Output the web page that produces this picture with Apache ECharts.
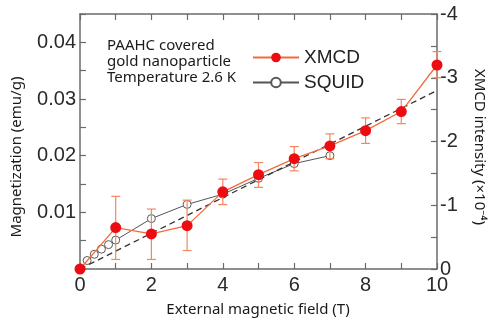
<!DOCTYPE html>
<html>
<head>
<meta charset="utf-8">
<script src="https://cdn.jsdelivr.net/npm/echarts@6/dist/echarts.min.js"></script>
<style>
  html, body { margin: 0; padding: 0; background: #ffffff; }
  #chart { width: 500px; height: 326px; }
</style>
</head>
<body>
<div id="chart"></div>
<script>
// XMCD intensity (×10^-4) versus applied field, with error bar limits
const xmcdField = [0, 1, 2, 3, 4, 5, 6, 7, 8, 9, 10];
const xmcdValue = [0, -0.65, -0.55, -0.68, -1.21, -1.48, -1.73, -1.93, -2.17, -2.47, -3.20];
const xmcdErrLow = [null, -0.15, -0.15, -0.29, -1.01, -1.28, -1.54, -1.73, -1.97, -2.28, -3.00];
const xmcdErrHigh = [null, -1.14, -0.94, -1.08, -1.41, -1.67, -1.92, -2.12, -2.37, -2.66, -3.41];

// SQUID magnetization (emu/g) versus applied field
const squidField = [0.2, 0.4, 0.6, 0.8, 1.0, 2, 3, 4, 5, 6, 7];
const squidValue = [0.0015, 0.0026, 0.0035, 0.0043, 0.0051, 0.0089, 0.0114, 0.0132, 0.0160, 0.0186, 0.0200];

// Linear fit through the origin (emu/g)
const fitField = [0, 10];
const fitValue = [0, 0.0315];

// Axis ticks and labels
const fieldLabels = [0, 2, 4, 6, 8, 10];
const magLabels = [0.01, 0.02, 0.03, 0.04];
const xmcdLabels = [-4, -3, -2, -1, 0];

const sampleNote = ['PAAHC covered', 'gold nanoparticle', 'Temperature 2.6 K'];

const axisColor = '#6b6b6b';
const tickFont = 'Liberation Sans, Arial, sans-serif';
const titleFont = 'Noto Sans, Open Sans, sans-serif';
const xmcdLine = '#f26b3a';
const xmcdDot = '#ec0c12';
const errColor = '#f3875f';

const near = (v, list) => list.some(t => Math.abs(t - v) < 1e-6);

const chart = echarts.init(document.getElementById('chart'), null, { renderer: 'canvas' });

const errData = xmcdField.map((f, i) => [f, xmcdErrLow[i], xmcdErrHigh[i]])
  .filter(d => d[1] !== null);

const frameLine = { show: true, onZero: false, lineStyle: { color: axisColor, width: 1.5 } };
const frameTick = { show: true, inside: true, length: 6, lineStyle: { color: axisColor, width: 1.2 } };

chart.setOption({
  animation: false,
  backgroundColor: '#ffffff',
  grid: { left: 80, right: 63, top: 14, bottom: 57, show: false },
  legend: {
    orient: 'vertical',
    left: 247,
    top: 43,
    itemWidth: 46,
    itemHeight: 12,
    itemGap: 6,
    textStyle: { fontFamily: tickFont, fontSize: 19, color: '#222' },
    data: ['XMCD', 'SQUID']
  },
  xAxis: [
    {
      type: 'value', min: 0, max: 10, interval: 1, position: 'bottom',
      axisLine: frameLine, axisTick: frameTick,
      axisLabel: {
        margin: 6, fontFamily: tickFont, fontSize: 20, color: '#2a2a2a',
        formatter: v => near(v, fieldLabels) ? String(v) : ''
      },
      splitLine: { show: false }
    },
    {
      type: 'value', min: 0, max: 10, interval: 1, position: 'top',
      axisLine: frameLine, axisTick: frameTick,
      axisLabel: { show: false },
      splitLine: { show: false }
    }
  ],
  yAxis: [
    {
      type: 'value', min: 0, max: 0.045, interval: 0.005, position: 'left',
      axisLine: frameLine, axisTick: frameTick,
      axisLabel: {
        margin: 4, fontFamily: tickFont, fontSize: 20, color: '#2a2a2a',
        formatter: v => near(v, magLabels) ? v.toFixed(2) : ''
      },
      splitLine: { show: false }
    },
    {
      type: 'value', min: -4, max: 0, interval: 0.5, inverse: true, position: 'right',
      axisLine: frameLine, axisTick: frameTick,
      axisLabel: {
        margin: 3, fontFamily: tickFont, fontSize: 20, color: '#2a2a2a',
        formatter: v => near(v, xmcdLabels) ? String(Math.round(v)) : ''
      },
      splitLine: { show: false }
    }
  ],
  graphic: [
    {
      type: 'text', left: 107, top: 38,
      style: {
        text: sampleNote.join('\n'), fontFamily: titleFont, fontSize: 15,
        lineHeight: 16, fill: '#1a1a1a'
      }
    },
    {
      type: 'text', x: 258, y: 310,
      style: {
        text: 'External magnetic field (T)', fontFamily: titleFont, fontSize: 15,
        fill: '#1a1a1a', align: 'center', verticalAlign: 'middle'
      }
    },
    {
      type: 'text', x: 17, y: 157, rotation: Math.PI / 2,
      style: {
        text: 'Magnetization (emu/g)', fontFamily: titleFont, fontSize: 15,
        fill: '#1a1a1a', align: 'center', verticalAlign: 'middle'
      }
    },
    {
      type: 'text', x: 479, y: 147, rotation: -Math.PI / 2,
      style: {
        text: 'XMCD intensity (×10⁻⁴)', fontFamily: titleFont, fontSize: 15,
        fill: '#1a1a1a', align: 'center', verticalAlign: 'middle'
      }
    }
  ],
  series: [
    {
      name: 'SQUID',
      type: 'line',
      xAxisIndex: 0, yAxisIndex: 0,
      data: squidField.map((f, i) => [f, squidValue[i]]),
      symbol: 'circle', symbolSize: 8,
      lineStyle: { color: '#555555', width: 1 },
      itemStyle: { color: '#ffffff', borderColor: '#5a5a5a', borderWidth: 1 },
      z: 2
    },
    {
      name: 'fit',
      type: 'line',
      xAxisIndex: 0, yAxisIndex: 0,
      data: fitField.map((f, i) => [f, fitValue[i]]),
      symbol: 'none',
      lineStyle: { color: '#333333', width: 1.3, type: [6, 4] },
      z: 3
    },
    {
      name: 'XMCD error',
      type: 'custom',
      xAxisIndex: 0, yAxisIndex: 1,
      data: errData,
      renderItem: (params, api) => {
        const x = api.value(0);
        const lo = api.coord([x, api.value(1)]);
        const hi = api.coord([x, api.value(2)]);
        const half = 4.5;
        const style = { stroke: errColor, lineWidth: 1.2 };
        return {
          type: 'group',
          children: [
            { type: 'line', shape: { x1: lo[0], y1: lo[1], x2: hi[0], y2: hi[1] }, style },
            { type: 'line', shape: { x1: lo[0] - half, y1: lo[1], x2: lo[0] + half, y2: lo[1] }, style },
            { type: 'line', shape: { x1: hi[0] - half, y1: hi[1], x2: hi[0] + half, y2: hi[1] }, style }
          ]
        };
      },
      z: 4
    },
    {
      name: 'XMCD',
      type: 'line',
      xAxisIndex: 0, yAxisIndex: 1,
      data: xmcdField.map((f, i) => [f, xmcdValue[i]]),
      symbol: 'circle', symbolSize: 11,
      lineStyle: { color: xmcdLine, width: 1.3 },
      itemStyle: { color: xmcdDot, borderColor: xmcdDot, borderWidth: 0 },
      z: 5
    }
  ]
});
</script>
</body>
</html>
